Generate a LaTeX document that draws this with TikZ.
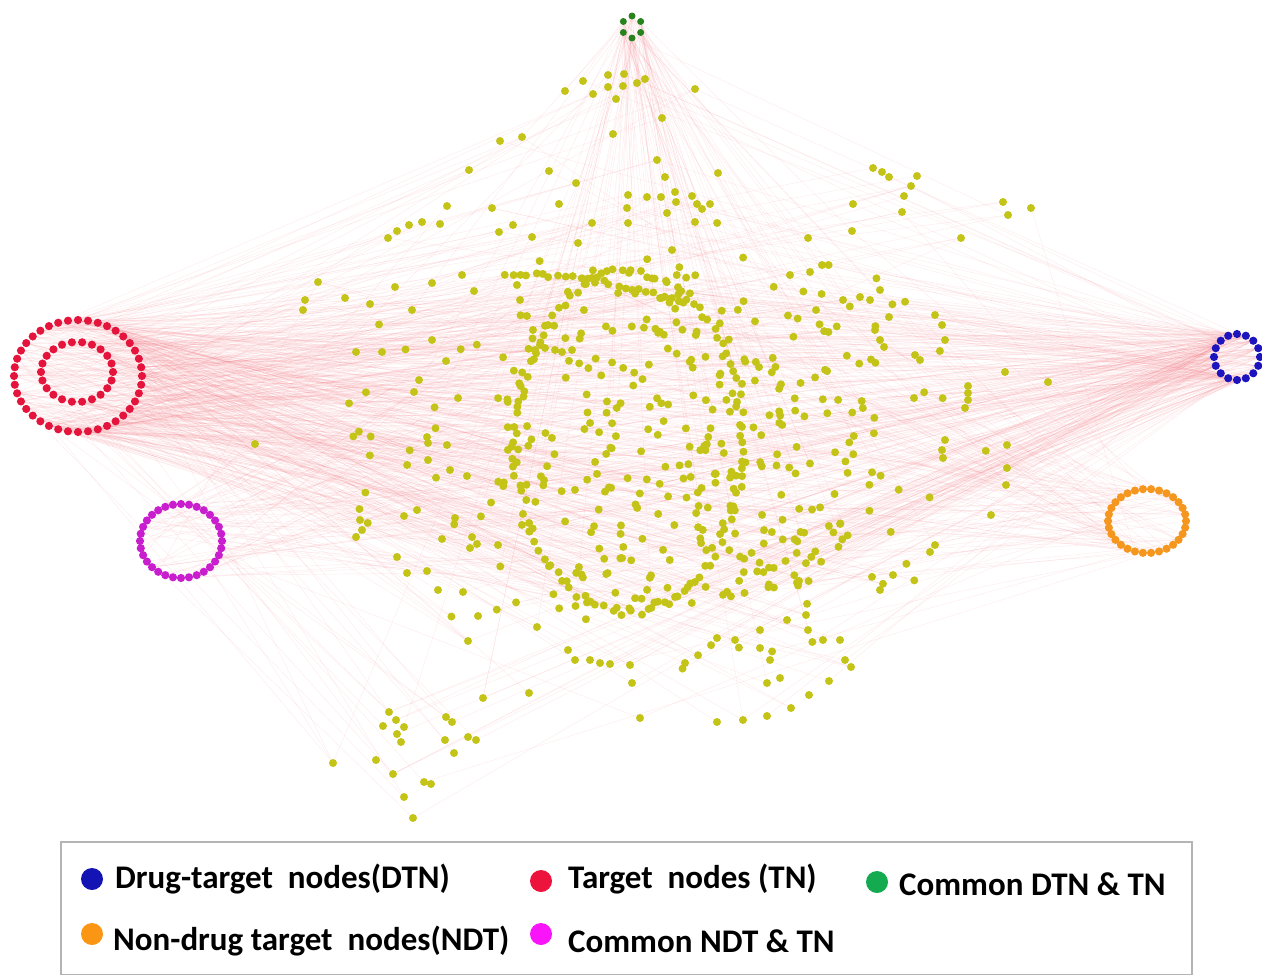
\documentclass[tikz,border=0pt]{standalone}
\usepackage{fontspec}
\setmainfont{Carlito}
\usetikzlibrary{backgrounds}
\definecolor{ylw}{RGB}{196,196,24}
\definecolor{tnred}{RGB}{228,20,60}
\definecolor{dtnblue}{RGB}{30,20,190}
\definecolor{cmgreen}{RGB}{40,130,30}
\definecolor{ndtorange}{RGB}{245,150,30}
\definecolor{cmmag}{RGB}{200,30,205}
\definecolor{edgepink}{RGB}{240,120,130}
\definecolor{lgblue}{RGB}{20,20,180}
\definecolor{lgred}{RGB}{236,20,60}
\definecolor{lggreen}{RGB}{20,170,80}
\definecolor{lgorange}{RGB}{250,150,20}
\definecolor{lgmag}{RGB}{250,20,250}
\definecolor{boxgray}{RGB}{180,180,180}
\newcount\yn
\def\addpt#1#2{\global\advance\yn by 1\relax\edef\tmpname{y\the\yn}\node[ydot] (\tmpname) at ({#1},{#2}) {};}
\begin{document}
\begin{tikzpicture}[x=1pt,y=-1pt,
  ydot/.style={circle,fill=ylw,inner sep=0pt,minimum size=8pt},
  cdot/.style={circle,fill=#1,inner sep=0pt,minimum size=8.2pt},
  edge/.style={draw=edgepink,line width=0.45pt,opacity=0.14},
  lgdot/.style={circle,fill=#1,inner sep=0pt,minimum size=22pt},
  lgtext/.style={anchor=west,font=\fontsize{33}{36}\selectfont\bfseries,inner sep=0pt}
]
\useasboundingbox (0,0) rectangle (1262,975);
\pgfmathsetseed{4242}
% ---- coloured rings
\foreach \i in {1,...,40} \node[cdot=tnred] (ro\i) at ({78+64*cos(\i*9)},{376+56*sin(\i*9)}) {};
\foreach \i in {1,...,22} \node[cdot=tnred] (ri\i) at ({77+36*cos(\i*360/22)},{372+30*sin(\i*360/22)}) {};
\foreach \i in {1,...,16} \node[cdot=dtnblue] (b\i) at ({1237+23*cos(\i*22.5)},{357+23*sin(\i*22.5)}) {};
\foreach \i in {1,...,6} \node[cdot=cmgreen,minimum size=7pt] (g\i) at ({632+10*cos(\i*60+30)},{27+11*sin(\i*60+30)}) {};
\foreach \i in {1,...,32} \node[cdot=cmmag] (m\i) at ({181+41*cos(\i*11.25)},{541+37*sin(\i*11.25)}) {};
\foreach \i in {1,...,30} \node[cdot=ndtorange] (o\i) at ({1147+39*cos(\i*12)},{521+32*sin(\i*12)}) {};
% ---- yellow nodes: hand placed outer points
\foreach \px/\py in {565/91,583/81,608/75,624/74,608/87,623/86,593/94,616/99,637/83,645/79,695/89,662/118,613/134,522/137,500/141,469/170,549/171,576/183,657/160,665/177,718/173,675/192,628/195,647/197,661/197,676/202,692/196,697/204,702/209,710/204,627/208,667/213,628/223,695/222,592/223,559/204,492/208,447/206,440/224,422/222,409/225,397/231,388/238,513/225,499/232,532/237,578/243,672/250,
873/168,882/172,889/177,917/176,911/186,904/196,902/212,853/204,852/231,1003/202,1008/215,1031/208,961/238,808/238,822/265,810/272,790/275,
318/282,305/300,303/310,345/298,370/304,395/287,412/310,432/283,474/291,462/275,356/352,382/352,419/380,414/392,255/444,360/520,362/530,356/537,404/516,417/510,455/518,397/557,407/573,427/571,438/590,463/592,470/548,498/545,432/340,446/361,458/398,427/437,428/460,450/470,467/476,428/443,447/445,442/539,472/537,477/544,478/616,468/641,
1005/372,1048/382,968/386,968/393,968/400,965/408,945/440,942/450,943/458,1007/445,1007/468,1006/485,991/515,935/545,930/552,893/575,880/590,914/398,935/315,942/325,945/340,915/355,920/360,880/290,870/300,860/297,843/300,889/317,880/340,875/330,884/347,
333/763,389/712,396/720,383/726,404/727,397/734,401/742,376/760,393/774,424/782,431/784,404/797,413/818,446/717,452/722,445/740,468/737,476/740,454/753,483/698,529/693,632/683,640/718,717/722,743/720,767/716,791/708,809/695,829/681,851/667,767/683,780/678,537/627,568/650,575/660,590/660,600/663,610/664,630/665,685/663,717/638,735/640,760/648,770/660,806/615,808/630,840/640,845/660,823/640,787/620,760/630}
  {\addpt{\px}{\py}}
% ---- big ring of nodes
\foreach \t in {0,3,...,357} {\addpt{628+113*cos(\t)+4*rand}{442+170*sin(\t)+4*rand}}
% ---- top arc
\foreach \s in {0,...,24} {\addpt{505+7.5*\s+2*rand}{274+0.05*(\s*\s)+2*rand}}
% ---- inner column and bar
\foreach \px/\py in {517/285,520/300,527/316,533/330,540/345,535/350,545/348,555/350,562/352,572/350}{\addpt{\px}{\py}}
% ---- random fill
\foreach \k in {1,...,260} {\pgfmathsetmacro\ang{360*rnd}\pgfmathsetmacro\rr{sqrt(rnd)}\addpt{690+200*\rr*cos(\ang)}{440+170*\rr*sin(\ang)}}
\foreach \k in {1,...,120} {\pgfmathsetmacro\ang{360*rnd}\pgfmathsetmacro\rr{sqrt(rnd)}\addpt{660+330*\rr*cos(\ang)}{440+230*\rr*sin(\ang)}}
\edef\N{\the\yn}
% ---- edges
\begin{pgfonlayer}{background}
\foreach \k in {1,...,460} {\pgfmathrandominteger{\a}{1}{40}\pgfmathrandominteger{\b}{1}{\N}\draw[edge] (ro\a) -- (y\b);}
\foreach \k in {1,...,110} {\pgfmathrandominteger{\a}{1}{22}\pgfmathrandominteger{\b}{1}{\N}\draw[edge] (ri\a) -- (y\b);}
\foreach \k in {1,...,320} {\pgfmathrandominteger{\a}{1}{16}\pgfmathrandominteger{\b}{1}{\N}\draw[edge] (b\a) -- (y\b);}
\foreach \k in {1,...,100} {\pgfmathrandominteger{\a}{1}{6}\pgfmathrandominteger{\b}{1}{\N}\draw[edge] (g\a) -- (y\b);}
\foreach \k in {1,...,100} {\pgfmathrandominteger{\a}{1}{30}\pgfmathrandominteger{\b}{1}{\N}\draw[edge] (o\a) -- (y\b);}
\foreach \k in {1,...,80} {\pgfmathrandominteger{\a}{1}{32}\pgfmathrandominteger{\b}{1}{\N}\draw[edge] (m\a) -- (y\b);}
\end{pgfonlayer}
% ---- legend
\node[draw=boxgray,line width=2pt,inner sep=0pt,minimum width=1131pt,minimum height=133pt,anchor=north west] (legend) at (60,841) {};
\node[lgdot=lgblue] (l1) at (92,879) {};
\node[lgtext] (t1) at (115,879) {Drug-target~ nodes(DTN)};
\node[lgdot=lgred] (l2) at (541,881) {};
\node[lgtext] (t2) at (568,879) {Target~ nodes (TN)};
\node[lgdot=lggreen] (l3) at (877,882) {};
\node[lgtext] (t3) at (899,884) {Common DTN \& TN};
\node[lgdot=lgorange] (l4) at (92,934) {};
\node[lgtext] (t4) at (113,941) {Non-drug target~ nodes(NDT)};
\node[lgdot=lgmag] (l5) at (541,934) {};
\node[lgtext] (t5) at (568,941) {Common NDT \& TN};
\end{tikzpicture}
\end{document}
